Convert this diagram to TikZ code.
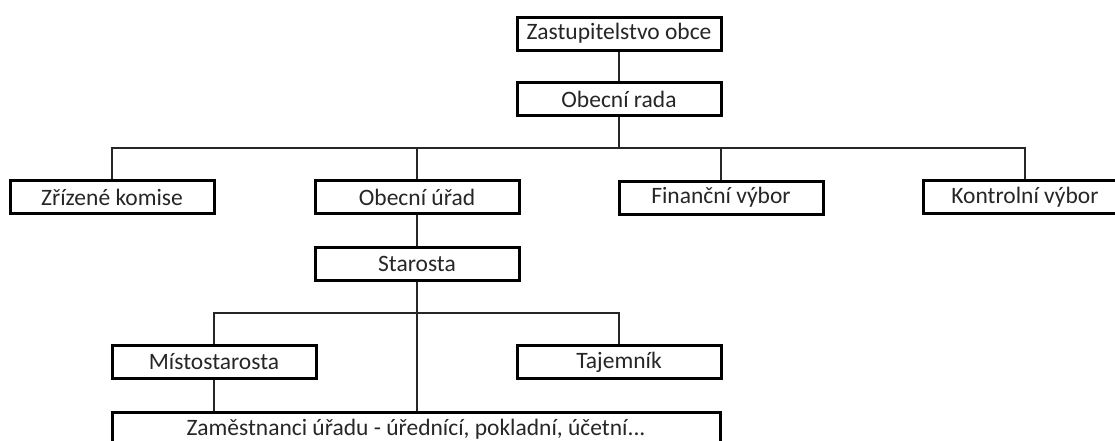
\documentclass[tikz,border=0pt]{standalone}
\usepackage{fontspec}
\setmainfont{Carlito}
\begin{document}
\begin{tikzpicture}[x=1pt,y=-1pt,
  orgbox/.style={draw=black, line width=3pt, fill=white, minimum width=204pt, minimum height=33pt, inner sep=0pt, font=\fontsize{23.5}{26}\selectfont, text=black!85},
  conn/.style={draw=black!85, line width=1.4pt}]
\useasboundingbox (0,0) rectangle (1115,440);
\clip (0,0) rectangle (1115,440);
\fill[white] (0,0) rectangle (1115,440);
\coordinate (bus1) at (0,148);
\coordinate (bus2) at (0,313);
\node[orgbox] (zo) at (619,33.5) {Zastupitelstvo obce};
\node[orgbox] (rada) at (619,99) {Obecní rada};
\node[orgbox] (komise) at (112,197) {Zřízené komise};
\node[orgbox] (urad) at (417,197) {Obecní úřad};
\node[orgbox] (fin) at (721,197.5) {Finanční výbor};
\node[orgbox] (kon) at (1025,197) {Kontrolní výbor};
\node[orgbox] (star) at (417,263.5) {Starosta};
\node[orgbox] (misto) at (214,362) {Místostarosta};
\node[orgbox] (taj) at (619,362) {Tajemník};
\node[orgbox, minimum width=608pt, minimum height=34pt] (zam) at (416,429) {Zaměstnanci úřadu - úřednící, pokladní, účetní...};
\draw[conn] (zo.south) -- (rada.north);
\draw[conn] (rada.south) -- (rada.south |- bus1);
\draw[conn] (komise.north) -- (komise.north |- bus1) -- (kon.north |- bus1) -- (kon.north);
\draw[conn] (urad.north) -- (urad.north |- bus1);
\draw[conn] (fin.north) -- (fin.north |- bus1);
\draw[conn] (urad.south) -- (star.north);
\draw[conn] (star.south) -- (zam.north -| star.south);
\draw[conn] (misto.north) -- (misto.north |- bus2) -- (taj.north |- bus2) -- (taj.north);
\draw[conn] (misto.south) -- (zam.north -| misto.south);
\end{tikzpicture}
\end{document}
